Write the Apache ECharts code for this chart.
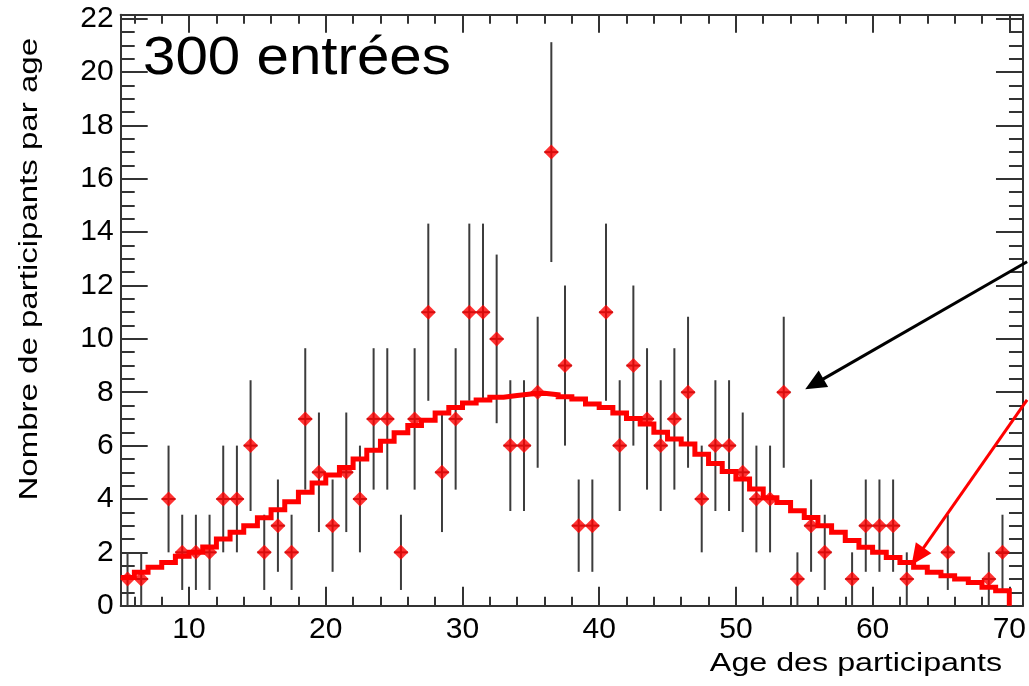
<!DOCTYPE html>
<html>
<head>
<meta charset="utf-8">
<script src="https://cdn.jsdelivr.net/npm/echarts@6/dist/echarts.min.js"></script>
<style>
  html, body { margin: 0; padding: 0; background: #ffffff; }
  #chart { width: 1029px; height: 686px; }
</style>
</head>
<body>
<div id="chart"></div>
<script>
// Age histogram: one bin per year, lower edges 5 .. 69
const binLow = [5, 6, 7, 8, 9, 10, 11, 12, 13, 14, 15, 16, 17, 18, 19, 20, 21, 22, 23, 24,
  25, 26, 27, 28, 29, 30, 31, 32, 33, 34, 35, 36, 37, 38, 39, 40, 41, 42, 43, 44,
  45, 46, 47, 48, 49, 50, 51, 52, 53, 54, 55, 56, 57, 58, 59, 60, 61, 62, 63, 64,
  65, 66, 67, 68, 69];

// participants per bin
const counts = [1, 1, 0, 4, 2, 2, 2, 4, 4, 6, 2, 3, 2, 7, 5, 3, 5, 4, 7, 7,
  2, 7, 11, 5, 7, 11, 11, 10, 6, 6, 8, 17, 9, 3, 3, 11, 6, 9, 7, 6,
  7, 8, 4, 6, 6, 5, 4, 4, 8, 1, 3, 2, 0, 1, 3, 3, 3, 1, 0, 0,
  2, 0, 0, 1, 2];

// statistical uncertainty on each bin
const countErrors = [1, 1, 0, 2, 1.41, 1.41, 1.41, 2, 2, 2.45, 1.41, 1.73, 1.41, 2.65, 2.24, 1.73, 2.24, 2, 2.65, 2.65,
  1.41, 2.65, 3.32, 2.24, 2.65, 3.32, 3.32, 3.16, 2.45, 2.45, 2.83, 4.12, 3, 1.73, 1.73, 3.32, 2.45, 3, 2.65, 2.45,
  2.65, 2.83, 2, 2.45, 2.45, 2.24, 2, 2, 2.83, 1, 1.73, 1.41, 0, 1, 1.73, 1.73, 1.73, 1, 0, 0,
  1.41, 0, 0, 1, 1.41];

// fitted curve, one value per bin
const fitValues = [1.06, 1.25, 1.44, 1.62, 1.85, 2.0, 2.2, 2.5, 2.75, 3.0, 3.3, 3.6, 3.9, 4.25, 4.6, 4.9, 5.18, 5.5, 5.83, 6.16,
  6.48, 6.75, 6.95, 7.22, 7.43, 7.6, 7.71, 7.81, 7.88, 7.93, 7.96, 7.91, 7.83, 7.75, 7.56, 7.43, 7.22, 7.02, 6.81, 6.5,
  6.25, 6.06, 5.68, 5.33, 5.03, 4.75, 4.37, 4.05, 3.87, 3.56, 3.31, 3.0, 2.75, 2.44, 2.19, 2.0, 1.81, 1.62, 1.44, 1.25,
  1.12, 1.0, 0.87, 0.69, 0.56];
const histEnd = 70;

// axis ticks and labels
const xMajorTicks = [10, 20, 30, 40, 50, 60, 70];
const yMajorTicks = [0, 2, 4, 6, 8, 10, 12, 14, 16, 18, 20, 22];

// annotation arrows (data coordinates: tail, tip)
const blackArrow = [[71.3, 12.89], [55.07, 8.11]];
const redArrow = [[71.3, 7.71], [62.85, 1.53]];

const entriesLabel = '300 entrées';
const xTitle = 'Age des participants';
const yTitle = 'Nombre de participants par age';

// minor tick positions: x every 2, y every 0.5
const xMinorTicks = [];
for (let v = 6; v <= 70; v += 2) if (v % 10 !== 0) xMinorTicks.push(v);
const yMinorTicks = [];
for (let v = 0.5; v <= 22; v += 0.5) if (v % 2 !== 0) yMinorTicks.push(v);

const FONT = '"Liberation Sans", Arial, Helvetica, sans-serif';
const AXIS_COLOR = '#333333';
const X_MIN = 5, X_MAX = 71, Y_MIN = 0, Y_MAX = 22.15;

function xAxisDef(position, ticks, len, withLine, withLabels) {
  return {
    type: 'value', position: position, min: X_MIN, max: X_MAX,
    axisLine: { show: withLine, onZero: false, lineStyle: { color: AXIS_COLOR, width: 2 } },
    axisTick: { show: true, inside: true, length: len, customValues: ticks,
      lineStyle: { color: AXIS_COLOR, width: 2 } },
    axisLabel: withLabels
      ? { show: true, customValues: ticks, fontSize: 30, fontFamily: FONT, color: '#000', margin: 9 }
      : { show: false },
    splitLine: { show: false }
  };
}
function yAxisDef(position, ticks, len, withLine, withLabels) {
  return {
    type: 'value', position: position, min: Y_MIN, max: Y_MAX,
    axisLine: { show: withLine, onZero: false, lineStyle: { color: AXIS_COLOR, width: 2 } },
    axisTick: { show: true, inside: true, length: len, customValues: ticks,
      lineStyle: { color: AXIS_COLOR, width: 2 } },
    axisLabel: withLabels
      ? { show: true, customValues: ticks, fontSize: 30, fontFamily: FONT, color: '#000', margin: 7,
          padding: [8, 0, 0, 0] }
      : { show: false },
    splitLine: { show: false }
  };
}

const pointData = [];
const errorData = [];
binLow.forEach((lo, i) => {
  if (counts[i] > 0) {
    pointData.push([lo + 0.5, counts[i]]);
    errorData.push([lo + 0.5, counts[i], countErrors[i], lo, lo + 1]);
  }
});

const fitData = binLow.map((lo, i) => [lo, fitValues[i]]);
fitData.push([histEnd, fitValues[fitValues.length - 1]]);
fitData.push([histEnd, 0]);

const chart = echarts.init(document.getElementById('chart'), null, { renderer: 'canvas' });
chart.setOption({
  animation: false,
  backgroundColor: '#ffffff',
  grid: { left: 120.7, right: 4.1, top: 14.7, bottom: 80.3, containLabel: false },
  xAxis: [
    xAxisDef('bottom', xMajorTicks, 19, true, true),
    xAxisDef('bottom', xMinorTicks, 9, false, false),
    xAxisDef('top', xMajorTicks, 18, true, false),
    xAxisDef('top', xMinorTicks, 9, false, false)
  ],
  yAxis: [
    yAxisDef('left', yMajorTicks, 27, true, true),
    yAxisDef('left', yMinorTicks, 14, false, false),
    yAxisDef('right', yMajorTicks, 27, true, false),
    yAxisDef('right', yMinorTicks, 14, false, false)
  ],
  series: [
    {
      type: 'custom',
      name: 'errors',
      xAxisIndex: 0, yAxisIndex: 0,
      z: 2,
      silent: true,
      data: errorData,
      encode: { x: 0, y: 1 },
      renderItem: function (params, api) {
        const x = api.value(0), y = api.value(1), e = api.value(2);
        const top = api.coord([x, y + e]);
        const bot = api.coord([x, y - e]);
        const l = api.coord([api.value(3), y]);
        const r = api.coord([api.value(4), y]);
        const st = { stroke: '#3c3c3c', lineWidth: 2 };
        return {
          type: 'group',
          children: [
            { type: 'line', shape: { x1: top[0], y1: top[1], x2: bot[0], y2: bot[1] }, style: st },
            { type: 'line', shape: { x1: l[0], y1: l[1], x2: r[0], y2: r[1] }, style: st }
          ]
        };
      }
    },
    {
      type: 'line',
      name: 'fit',
      xAxisIndex: 0, yAxisIndex: 0,
      z: 3,
      step: 'end',
      data: fitData,
      showSymbol: false,
      symbol: 'none',
      silent: true,
      lineStyle: { color: '#ff0000', width: 5, join: 'miter' }
    },
    {
      type: 'scatter',
      name: 'participants',
      xAxisIndex: 0, yAxisIndex: 0,
      z: 4,
      symbol: 'diamond',
      symbolSize: [15, 15],
      itemStyle: { color: '#ff0000' },
      emphasis: { disabled: true },
      silent: true,
      data: pointData
    }
  ],
  graphic: [
    {
      id: 'entries', type: 'text', x: 143, y: 59.5, scaleX: 1.1, z: 10,
      style: { text: entriesLabel, font: '53px ' + FONT, fill: '#000', align: 'left', verticalAlign: 'middle' }
    },
    {
      id: 'xtitle', type: 'text', x: 1002, y: 664, scaleX: 1.24, z: 10,
      style: { text: xTitle, font: '26px ' + FONT, fill: '#000', align: 'right', verticalAlign: 'middle' }
    },
    {
      id: 'ytitle', type: 'text', x: 30, y: 38, rotation: Math.PI / 2, scaleX: 1.27, z: 10,
      style: { text: yTitle, font: '26px ' + FONT, fill: '#000', align: 'right', verticalAlign: 'middle' }
    }
  ]
});

// Arrows: positions go through the chart's own axes, then a shaft plus a filled head.
function arrowElements(id, arrow, color) {
  const finder = { xAxisIndex: 0, yAxisIndex: 0 };
  const p0 = chart.convertToPixel(finder, arrow[0]);
  const p1 = chart.convertToPixel(finder, arrow[1]);
  const dx = p1[0] - p0[0], dy = p1[1] - p0[1];
  const len = Math.hypot(dx, dy);
  const ux = dx / len, uy = dy / len;
  const headLen = 21, headHalf = 9.5;
  const bx = p1[0] - ux * headLen, by = p1[1] - uy * headLen;
  return [
    { id: id + '-shaft', type: 'line', z: 12, silent: true,
      shape: { x1: p0[0], y1: p0[1], x2: bx + ux * 2, y2: by + uy * 2 },
      style: { stroke: color, lineWidth: 3 } },
    { id: id + '-head', type: 'polygon', z: 12, silent: true,
      shape: { points: [[p1[0], p1[1]], [bx - uy * headHalf, by + ux * headHalf], [bx + uy * headHalf, by - ux * headHalf]] },
      style: { fill: color } }
  ];
}
chart.setOption({
  graphic: [].concat(arrowElements('arrowBlack', blackArrow, '#000000'),
                     arrowElements('arrowRed', redArrow, '#ff0000'))
});
</script>
</body>
</html>
